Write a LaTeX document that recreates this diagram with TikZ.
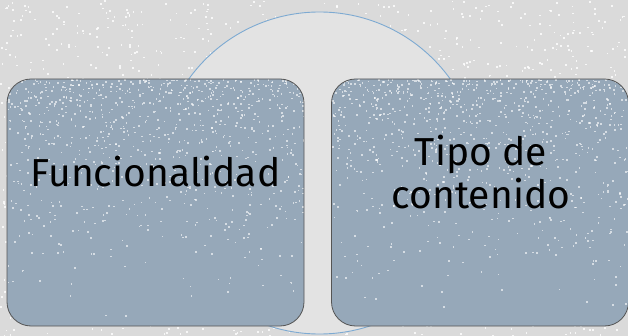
\documentclass[tikz,border=0pt]{standalone}
\usepackage{fontspec}
\setmainfont{Fira Sans}
\usepackage{tikz}
\usetikzlibrary{positioning}
\definecolor{bggray}{RGB}{218,218,218}
\definecolor{ringfill}{RGB}{227,227,227}
\definecolor{ringline}{RGB}{125,170,210}
\definecolor{boxfill}{RGB}{150,168,185}
\definecolor{boxline}{RGB}{85,85,85}

\begin{document}
\begin{tikzpicture}[
  x=1pt, y=-1pt,
  every node/.style={font=\fontsize{39}{43}\selectfont},
  panel/.style={rectangle, rounded corners=24pt, minimum width=297pt, minimum height=247pt, inner sep=0pt},
  ring/.style={circle, minimum size=322pt, inner sep=0pt, draw=ringline, line width=0.9pt, fill=ringfill},
  label/.style={align=center, text=black, inner sep=0pt},
]

% ---- Background with speckles ----
\useasboundingbox (0,0) rectangle (628,336);
\fill[bggray] (0,0) rectangle (628,336);
\pgfmathsetseed{11}
\foreach \i in {1,...,1800} {
  \fill[white, opacity=0.8] ({rnd*628},{rnd*336}) rectangle ++(1.7,1.7);
}

% ---- Ring behind the panels ----
\node[ring] (ring) at (319.5,173) {};

% ---- Panels ----
\foreach \name/\x in {func/155.5, tipo/480} {
  \node[panel, fill=boxfill] (\name) at (\x,202.5) {};
  \begin{scope}
    \clip[rounded corners=24pt] (\name.north west) rectangle (\name.south east);
    \foreach \i in {1,...,900} {
      \fill[white, opacity=0.6] ({\x-148+rnd*297},{79+rnd*rnd*247}) rectangle ++(1.6,1.6);
    }
  \end{scope}
  \node[panel, draw=boxline, line width=0.8pt] at (\x,202.5) {};
}

% ---- Texts ----
\node[label] (funcText) at (155.5,172) {Funcionalidad};
\node[label] (tipoText) at (481,172) {Tipo de\\contenido};

\end{tikzpicture}
\end{document}
